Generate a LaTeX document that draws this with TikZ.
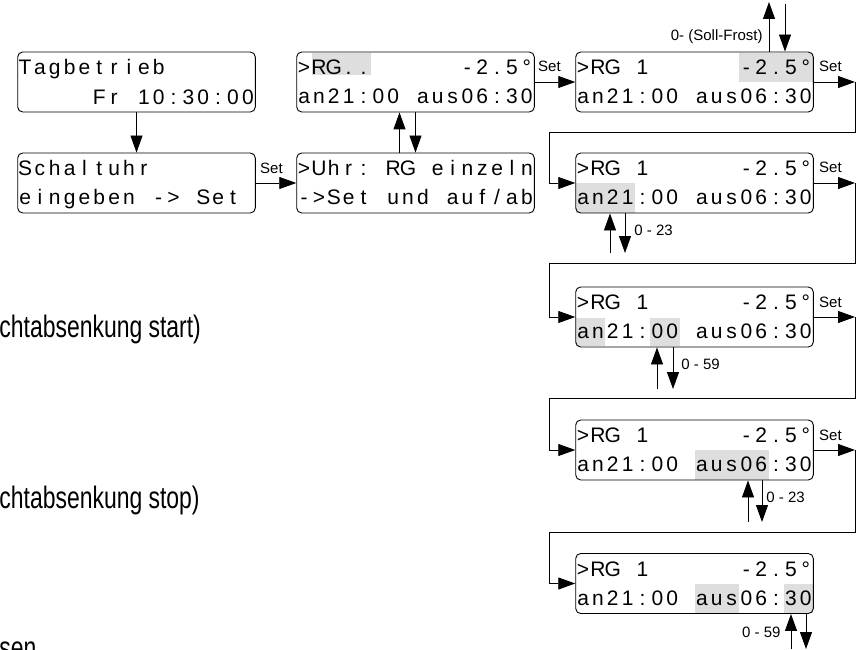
\documentclass[tikz,border=0pt]{standalone}
\usepackage{fontspec}
\setmainfont{Liberation Sans}
\newfontfamily\narrowfamily{Liberation Sans}[FakeStretch=0.74]
\usetikzlibrary{arrows.meta}
\definecolor{hilite}{gray}{0.87}
\newcommand{\lcd}{\fontsize{21}{24}\selectfont}
\newcommand{\lbl}{\fontsize{15}{17}\selectfont}
% one character per display cell
\ExplSyntaxOn
\NewDocumentCommand{\lcdrow}{m}{\str_map_inline:nn{#1}{\makebox[14.85pt]{##1}}}
\ExplSyntaxOff

\begin{document}
\begin{tikzpicture}[x=1pt, y=-1pt, line width=0.9pt, >={Triangle[length=17pt,width=12pt]},
	display/.style={draw, rounded corners=5pt, minimum width=237.6pt, minimum height=60pt, inner sep=0pt},
	row/.style={font=\lcd, inner sep=0pt},
	setlabel/.style={font=\lbl, anchor=base west, inner sep=0pt},
	rangelbl/.style={font=\lbl, inner sep=0pt},
	side/.style={font=\narrowfamily\fontsize{31}{36}\selectfont, anchor=base west, inner sep=0pt}]
	\clip (0,0) rectangle (857,650);
	% highlighted fields
	\fill[hilite] (311.6,53) rectangle (371,75);
	\fill[hilite] (739,53) rectangle (812.8,82);
	\fill[hilite] (576.2,183) rectangle (635.1,212.5);
	\fill[hilite] (576.2,318) rectangle (605.4,346);
	\fill[hilite] (650,318) rectangle (679.6,346);
	\fill[hilite] (694.5,450) rectangle (768.8,479.5);
	\fill[hilite] (694.5,584) rectangle (739,612.5);
	\fill[hilite] (783.6,584) rectangle (812.8,612.5);
	% displays
	\node[display] (tag) at (136.5,82) {};
	\node[row, anchor=base west] (tag1) at ([shift={(0,23)}]tag.north west) {\lcdrow{Tagbetrieb}};
	\node[row, anchor=base east] (tag2) at ([shift={(0,53)}]tag.north east) {\lcdrow{Fr 10:30:00}};
	\node[display] (schalt) at (136.5,183) {};
	\node[row, anchor=base west] (schalt1) at ([shift={(0,23)}]schalt.north west) {\lcdrow{Schaltuhr}};
	\node[row, anchor=base west] (schalt2) at ([shift={(0,52)}]schalt.north west) {\lcdrow{eingeben -> Set}};
	\node[display] (rgall) at (415.5,82) {};
	\node[row, anchor=base west] (rgall1) at ([shift={(0,23)}]rgall.north west) {\lcdrow{>RG..}};
	\node[row, anchor=base east] (rgall2) at ([shift={(0,23)}]rgall.north east) {\lcdrow{-2.5°}};
	\node[row, anchor=base west] (rgall3) at ([shift={(0,52)}]rgall.north west) {\lcdrow{an21:00 aus06:30}};
	\node[display] (uhr) at (415.5,183) {};
	\node[row, anchor=base west] (uhr1) at ([shift={(0,23)}]uhr.north west) {\lcdrow{>Uhr: RG einzeln}};
	\node[row, anchor=base west] (uhr2) at ([shift={(0,52)}]uhr.north west) {\lcdrow{->Set und auf/ab}};
	\foreach \n/\y in {rga/82, rgb/183, rgc/317, rgd/450, rge/583.5} {
		\node[display] (\n) at (694.5,\y) {};
		\node[row, anchor=base west] (\n1) at ([shift={(0,23)}]\n.north west) {\lcdrow{>RG 1}};
		\node[row, anchor=base east] (\n2) at ([shift={(0,23)}]\n.north east) {\lcdrow{-2.5°}};
		\node[row, anchor=base west] (\n3) at ([shift={(0,52)}]\n.north west) {\lcdrow{an21:00 aus06:30}};
	}
	% set key
	\draw[->] (tag.south) -- (schalt.north);
	\draw[->] (schalt.east) -- (uhr.west);
	\node[setlabel] (set0) at ([shift={(4,-9)}]schalt.east) {Set};
	\draw[->] ([xshift=-16pt]uhr.north) -- ([xshift=-16pt]rgall.south);
	\draw[->] (rgall.south) -- (uhr.north);
	\draw[->] (rgall.east) -- (rga.west);
	\node[setlabel] (set1) at ([shift={(3,-10)}]rgall.east) {Set};
	\foreach \a/\b/\y in {rga/rgb/132, rgb/rgc/263, rgc/rgd/398, rgd/rge/532} {
		\coordinate (\a R) at (855,\y);
		\coordinate (\a L) at (549,\y);
		\draw[->] (\a.east) -- (\a.east -| \a R);
		\draw[->] (\a.east -| \a R) -- (\a R) -- (\a L) |- (\b.west);
		\node[setlabel] (\a set) at ([shift={(5,-10)}]\a.east) {Set};
	}
	% up/down keys
	\coordinate (frostup) at (769,2);
	\coordinate (frostdn) at (785,4);
	\draw[->] (rga.north -| frostup) -- (frostup);
	\draw[->] (frostdn) -- (frostdn |- rga.north);
	\node[rangelbl, anchor=base east] (frost) at (763,41) {0- (Soll-Frost)};
	\foreach \n/\u/\d/\e in {rgb/610/625/253, rgc/657/673/389, rgd/748/762/522, rge/791/806/649} {
		\coordinate (\n up) at (\u,\e);
		\coordinate (\n dn) at (\d,\e);
		\draw[->] (\n up) -- (\n up |- \n.south);
		\draw[->] (\n dn |- \n.south) -- (\n dn);
	}
	\node[rangelbl, anchor=base west] (rngb) at (634,235) {0 - 23};
	\node[rangelbl, anchor=base west] (rngc) at (681,369) {0 - 59};
	\node[rangelbl, anchor=base west] (rngd) at (766,502) {0 - 23};
	\node[rangelbl, anchor=base east] (rnge) at (781,637) {0 - 59};
	% text beside
	\node[side] (start) at (-1,337) {chtabsenkung start)};
	\node[side] (stop) at (-1,508) {chtabsenkung stop)};
	\node[side] (sen) at (-1,658) {sen};
\end{tikzpicture}
\end{document}
